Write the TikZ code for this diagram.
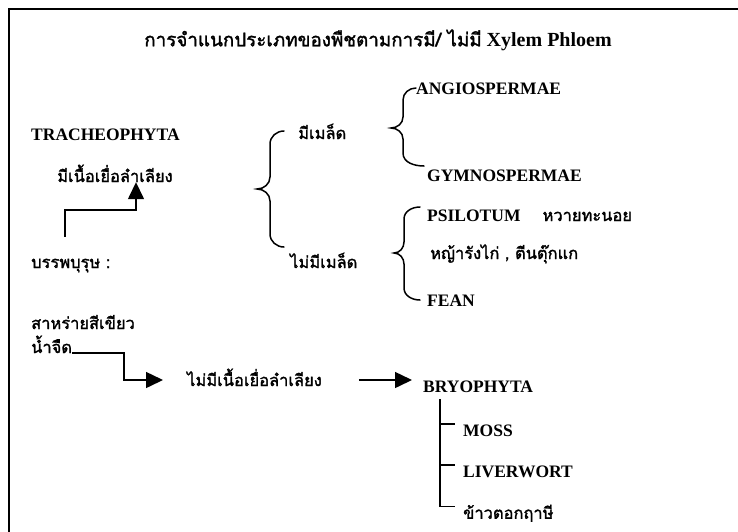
\documentclass[tikz,border=0pt]{standalone}
\usepackage{fontspec}
\setmainfont{Liberation Serif}
\newfontfamily\thaifont[Script=Thai,Scale=0.94,AutoFakeBold=1.6]{Loma}
\newcommand\thaitxt[1]{{\thaifont #1}}
\usetikzlibrary{positioning,arrows.meta}

\begin{document}
\begin{tikzpicture}[
  x=1pt, y=-1pt,
  lbl/.style={inner sep=0pt, anchor=west, font=\bfseries\fontsize{17.5}{20}\selectfont, text height=12pt, text depth=0pt},
  ttl/.style={inner sep=0pt, font=\bfseries\fontsize{20}{24}\selectfont},
  arr/.style={line width=1.5pt, -{Triangle[length=17pt,width=16pt]}},
  brc/.style={line width=1.5pt, line cap=round},
  tick/.style={line width=1.5pt},
]
\useasboundingbox (0,0) rectangle (738,531);
\clip (0,0) rectangle (738,531);
\draw[line width=2pt] (9,560) |- (760,9);

\node[ttl] (title) at (378,40) {\thaitxt{การจำแนกประเภทของพืชตามการมี/ ไม่มี} Xylem Phloem};

% left column
\node[lbl] (trach) at (31,134) {TRACHEOPHYTA};
\node[lbl] (vasc) at (57,176) {\thaitxt{มีเนื้อเยื่อลำเลียง}};
\node[lbl] (anc) at (31,262) {\thaitxt{บรรพบุรุษ :}};
\node[lbl] (alga) at (31,323) {\thaitxt{สาหร่ายสีเขียว}};
\node[lbl] (fresh) at (31,347) {\thaitxt{น้ำจืด}};

% seeds or not
\node[lbl] (seed) at (298,133) {\thaitxt{มีเมล็ด}};
\node[lbl] (noseed) at (290,262) {\thaitxt{ไม่มีเมล็ด}};
\node[lbl] (angio) at (416,88) {ANGIOSPERMAE};
\node[lbl] (gymno) at (427,175) {GYMNOSPERMAE};
\node[lbl] (psil) at (427,215) {PSILOTUM\hspace{22pt}\thaitxt{หวายทะนอย}};
\node[lbl] (hya) at (430,253) {\thaitxt{หญ้ารังไก่ , ตีนตุ๊กแก}};
\node[lbl] (fean) at (427,300) {FEAN};

% non vascular branch
\node[lbl] (nonvasc) at (187,380) {\thaitxt{ไม่มีเนื้อเยื่อลำเลียง}};
\node[lbl] (bryo) at (423,386) {BRYOPHYTA};
\node[lbl] (moss) at (463,430) {MOSS};
\node[lbl, below right=29pt and 0pt of moss.south west] (liver) {LIVERWORT};
\node[lbl, below right=29pt and 0pt of liver.south west] (khao) {\thaitxt{ข้าวตอกฤาษี}};

% braces
\draw[brc] (284,131) to[out=180,in=90] (270,144) -- (270,177) to[out=-90,in=0] (257,189)
  to[out=0,in=90] (270,201) -- (270,234) to[out=-90,in=180] (284,247);
\draw[brc] (416,88) to[out=180,in=90] (403,100) -- (403,117) to[out=-90,in=0] (391,128)
  to[out=0,in=90] (403,139) -- (403,153) to[out=-90,in=180] (424,166);
\draw[brc] (420,207) to[out=180,in=90] (404,219) -- (404,242) to[out=-90,in=0] (394,253)
  to[out=0,in=90] (404,264) -- (404,288) to[out=-90,in=180] (420,300);

% arrows
\draw[arr] ([xshift=34pt,yshift=19pt]anc.north west) |- ([xshift=79pt,yshift=-28pt]vasc.south west) -- ([xshift=79pt]vasc.south west);
\draw[arr] (fresh.south east) -- ++(52,0) |- ([xshift=-24pt]nonvasc.west);
\draw[arr] ([xshift=37pt]nonvasc.east) -- ([xshift=-11pt]bryo.west |- nonvasc.east);

% bryophyta tree
\draw[tick] ([xshift=17pt,yshift=-7pt]bryo.south west) -- ([xshift=-23pt]khao.north west);
\foreach \n in {moss,liver,khao}
  \draw[tick] ([xshift=-23pt]\n.north west) -- ([xshift=-8pt]\n.north west);
\end{tikzpicture}
\end{document}
